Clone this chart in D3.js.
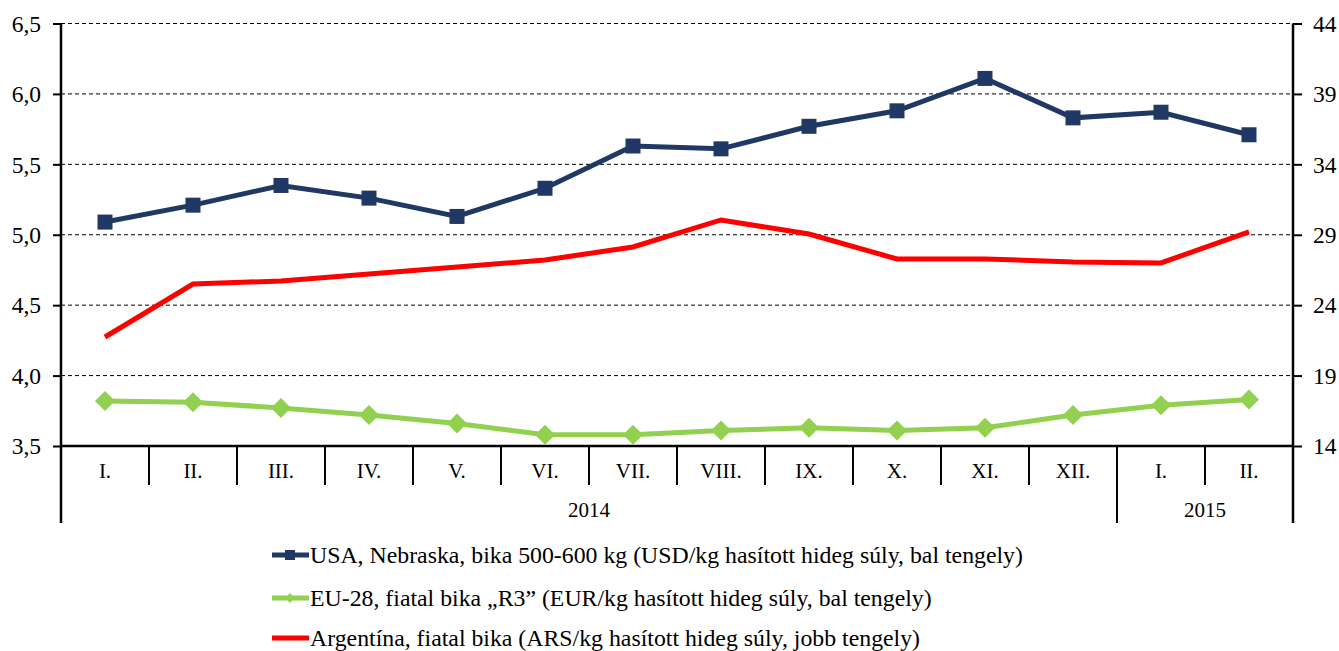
<!DOCTYPE html>
<html><head><meta charset="utf-8">
<script src="https://cdn.jsdelivr.net/npm/d3@7"></script>
<style>body{margin:0;background:#fff}svg{display:block}</style>
</head><body>
<svg id="c" width="1339" height="651"></svg>
<script>
const months = ["I.","II.","III.","IV.","V.","VI.","VII.","VIII.","IX.","X.","XI.","XII.","I.","II."];
const years = [{label:"2014", from:0, to:12},{label:"2015", from:12, to:14}];
const usa = [5.09,5.21,5.35,5.26,5.13,5.33,5.63,5.61,5.77,5.88,6.11,5.83,5.87,5.71];
const eu  = [3.82,3.81,3.77,3.72,3.66,3.58,3.58,3.61,3.63,3.61,3.63,3.72,3.79,3.83];
const arg = [21.74,25.5,25.72,26.21,26.71,27.21,28.13,30.05,29.05,27.28,27.28,27.07,27.0,29.2];
const leftTicks = [3.5,4.0,4.5,5.0,5.5,6.0,6.5];
const rightTicks = [14,19,24,29,34,39,44];
const legendLabels = ["USA, Nebraska, bika 500-600 kg (USD/kg hasított hideg súly, bal tengely)","EU-28, fiatal bika „R3” (EUR/kg hasított hideg súly, bal tengely)","Argentína, fiatal bika (ARS/kg hasított hideg súly, jobb tengely)"];

const FONT = "'Liberation Serif', 'Times New Roman', Times, 'DejaVu Serif', serif";
const svg = d3.select("#c");
const L=61, R=1293, T=23.5, B=446;
const x = d3.scaleBand().domain(d3.range(months.length)).range([L,R]);
const yL = d3.scaleLinear().domain([3.5,6.5]).range([B,T]);
const yR = d3.scaleLinear().domain([14,44]).range([B,T]);
const fmt = d => d3.format(".1f")(d).replace(".",",");

// grid
svg.append("g").selectAll("line").data(leftTicks.filter(d=>d>3.5)).join("line")
  .attr("x1",L).attr("x2",R).attr("y1",d=>yL(d)).attr("y2",d=>yL(d))
  .attr("stroke","#000").attr("stroke-width",1).attr("stroke-dasharray","4,3");

function styleAxis(g){
  g.select(".domain").remove();
  g.selectAll("line").attr("stroke","#000").attr("stroke-width",2);
  g.selectAll("text").style("font-family",FONT).style("font-size","23.5px").attr("fill","#000").attr("dy","0.33em");
}
const gl = svg.append("g").attr("transform",`translate(${L},0)`)
  .call(d3.axisLeft(yL).tickValues(leftTicks).tickFormat(fmt).tickSize(8).tickPadding(12));
styleAxis(gl);
const gr = svg.append("g").attr("transform",`translate(${R},0)`)
  .call(d3.axisRight(yR).tickValues(rightTicks).tickSize(9).tickPadding(11));
styleAxis(gr);

// axes lines
svg.append("line").attr("x1",L).attr("x2",L).attr("y1",T).attr("y2",523).attr("stroke","#000").attr("stroke-width",2.5);
svg.append("line").attr("x1",R).attr("x2",R).attr("y1",T).attr("y2",523).attr("stroke","#000").attr("stroke-width",2.5);
svg.append("line").attr("x1",L).attr("x2",R).attr("y1",B).attr("y2",B).attr("stroke","#000").attr("stroke-width",2.5);

// category ticks
svg.append("g").selectAll("line").data(d3.range(1,months.length)).join("line")
  .attr("x1",d=>x(d)).attr("x2",d=>x(d)).attr("y1",B).attr("y2",d=>years.some(y=>y.from===d)?523:485)
  .attr("stroke","#000").attr("stroke-width",2);
svg.append("g").selectAll("text").data(months).join("text")
  .attr("x",(d,i)=>x(i)+x.bandwidth()/2).attr("y",478).attr("text-anchor","middle")
  .style("font-family",FONT).style("font-size","21px").attr("fill","#000").text(d=>d);
svg.append("g").selectAll("text").data(years).join("text")
  .attr("x",d=>(x(d.from)+(d.to<months.length?x(d.to):R))/2).attr("y",517).attr("text-anchor","middle")
  .style("font-family",FONT).style("font-size","21px").attr("fill","#000").text(d=>d.label);

const cx = i => x(i)+x.bandwidth()/2;
// Argentina
svg.append("path").datum(arg).attr("fill","none").attr("stroke","#FF0000").attr("stroke-width",5)
  .attr("d",d3.line().x((d,i)=>cx(i)).y(d=>yR(d)));
// EU
svg.append("path").datum(eu).attr("fill","none").attr("stroke","#92D050").attr("stroke-width",5)
  .attr("d",d3.line().x((d,i)=>cx(i)).y(d=>yL(d)));
svg.append("g").selectAll("path").data(eu).join("path")
  .attr("d",d3.symbol(d3.symbolSquare,200))
  .attr("transform",(d,i)=>`translate(${cx(i)},${yL(d)}) rotate(45)`).attr("fill","#92D050");
// USA
svg.append("path").datum(usa).attr("fill","none").attr("stroke","#203864").attr("stroke-width",5)
  .attr("d",d3.line().x((d,i)=>cx(i)).y(d=>yL(d)));
svg.append("g").selectAll("rect").data(usa).join("rect")
  .attr("x",(d,i)=>cx(i)-7.5).attr("y",d=>yL(d)-7.5).attr("width",15).attr("height",15).attr("fill","#203864");

// legend
const leg = svg.append("g");
const lc = ["#203864","#92D050","#FF0000"];
const ly = [555,598,638];
legendLabels.forEach((t,i)=>{
  leg.append("line").attr("x1",272).attr("x2",309).attr("y1",ly[i]).attr("y2",ly[i]).attr("stroke",lc[i]).attr("stroke-width",5);
  if(i===0) leg.append("rect").attr("x",285).attr("y",ly[i]-5).attr("width",10).attr("height",10).attr("fill",lc[i]);
  if(i===1) leg.append("path").attr("d",d3.symbol(d3.symbolSquare,50)()).attr("transform",`translate(290,${ly[i]}) rotate(45)`).attr("fill",lc[i]);
  leg.append("text").attr("x",310).attr("y",ly[i]).attr("dy","0.33em")
    .style("font-family",FONT).style("font-size","23.8px").attr("fill","#000").text(t);
});
</script>
</body></html>
